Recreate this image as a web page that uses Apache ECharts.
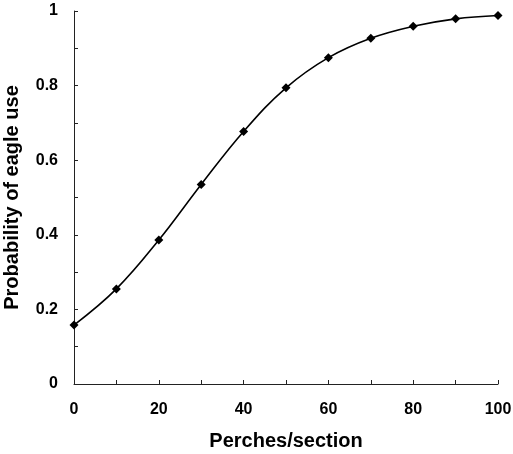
<!DOCTYPE html>
<html><head><meta charset="utf-8">
<script src="https://cdn.jsdelivr.net/npm/echarts@6/dist/echarts.min.js"></script>
<style>html,body{margin:0;padding:0;background:#fff}#c{width:513px;height:454px}</style>
</head><body><div id="c"></div>
<script>
const perches = [0, 10, 20, 30, 40, 50, 60, 70, 80, 90, 100];
const probability = [0.158, 0.255, 0.386, 0.535, 0.677, 0.794, 0.875, 0.927, 0.959, 0.979, 0.988];
const xTitle = 'Perches/section';
const yTitle = 'Probability of eagle use';

const chart = echarts.init(document.getElementById('c'));
const font = 'Liberation Sans, Arial, sans-serif';
chart.setOption({
  animation: false,
  grid: {left: 74, right: 15, top: 11, bottom: 70, containLabel: false, outerBoundsMode: 'none'},
  xAxis: {
    type: 'value', min: 0, max: 100, interval: 20,
    name: xTitle, nameLocation: 'middle', nameGap: 47,
    nameTextStyle: {fontFamily: font, fontWeight: 'bold', fontSize: 20, color: '#000'},
    axisLine: {lineStyle: {color: '#222', width: 1}},
    axisTick: {inside: true, length: 4, lineStyle: {color: '#222'}},
    minorTick: {show: true, splitNumber: 2, length: 4, lineStyle: {color: '#222'}},
    axisLabel: {fontFamily: font, fontWeight: 'bold', fontSize: 16, color: '#000', margin: 18},
    splitLine: {show: false}
  },
  yAxis: {
    type: 'value', min: 0, max: 1, interval: 0.2,
    name: yTitle, nameLocation: 'middle', nameGap: 52,
    nameTextStyle: {fontFamily: font, fontWeight: 'bold', fontSize: 20, color: '#000'},
    axisLine: {show: true, lineStyle: {color: '#222', width: 1}},
    axisTick: {show: true, inside: true, length: 4, lineStyle: {color: '#222'}},
    minorTick: {show: true, splitNumber: 2, length: 4, lineStyle: {color: '#222'}},
    axisLabel: {fontFamily: font, fontWeight: 'bold', fontSize: 16, color: '#000', margin: 16,
      formatter: v => (Math.round(v*10)/10).toString()},
    splitLine: {show: false}
  },
  series: [{
    type: 'line', smooth: 0.4,
    data: perches.map((x, i) => [x, probability[i]]),
    symbol: 'diamond', symbolSize: 9,
    itemStyle: {color: '#000'},
    lineStyle: {color: '#000', width: 1.6}
  }]
});
</script></body></html>
